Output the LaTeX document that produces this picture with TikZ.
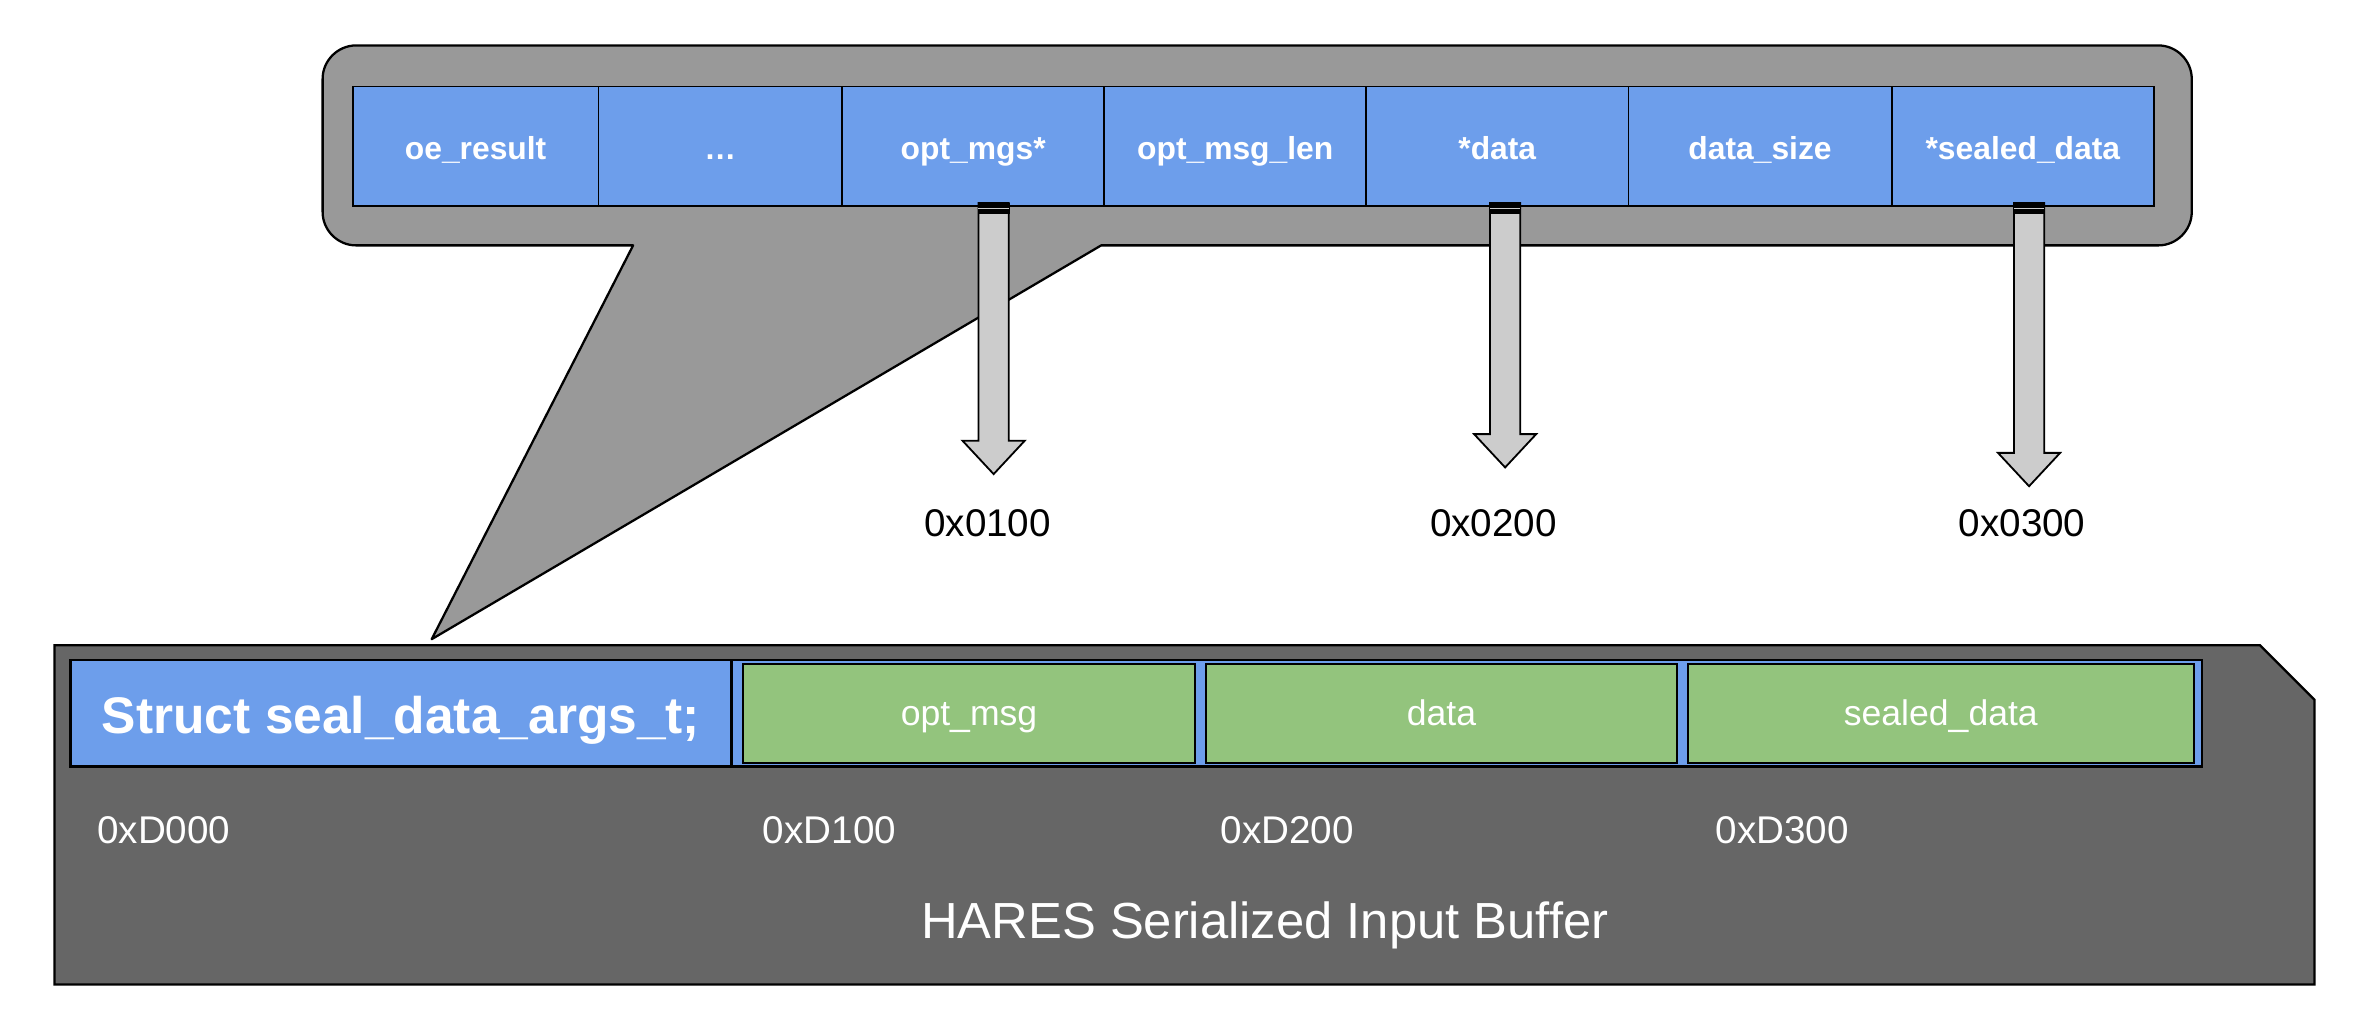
\documentclass[tikz,border=0pt]{standalone}
\usepackage{fontspec}
\setmainfont{Liberation Sans}
\usetikzlibrary{calc}
\definecolor{cellblue}{HTML}{6D9EEB}
\definecolor{cellgreen}{HTML}{93C47D}
\definecolor{calloutgray}{HTML}{999999}
\definecolor{panelgray}{HTML}{666666}
\definecolor{arrowgray}{HTML}{CCCCCC}
\begin{document}
\begin{tikzpicture}[x=1pt,y=-1pt,
  topcell/.style={draw=black, line width=1pt, fill=cellblue, minimum height=79pt,
    inner sep=0pt, outer sep=0pt, text=white, text height=17pt, text depth=0pt,
    font=\fontsize{21}{24}\selectfont\bfseries},
  structcell/.style={draw=black, line width=1.6pt, fill=cellblue, minimum height=70.4pt,
    inner sep=0pt, outer sep=0pt, text=white, text height=26.2pt, text depth=0pt,
    font=\fontsize{34}{38}\selectfont\bfseries},
  stripbox/.style={draw=black, line width=1.6pt, fill=cellblue, minimum height=70.4pt,
    inner sep=0pt, outer sep=0pt},
  greencell/.style={draw=black, line width=1.4pt, fill=cellgreen, minimum height=64.9pt,
    inner sep=0pt, outer sep=0pt, text=white, text height=16.6pt, text depth=0pt,
    font=\fontsize{23.5}{27}\selectfont},
  addrlabel/.style={anchor=base, inner sep=0pt, text=black, font=\fontsize{25.5}{29}\selectfont},
  paneladdr/.style={anchor=base west, inner sep=0pt, text=white, font=\fontsize{25.5}{29}\selectfont},
  paneltitle/.style={anchor=base, inner sep=0pt, text=white, font=\fontsize{33.5}{38}\selectfont},
  blockarrow/.style={draw=black, line width=1.2pt, fill=arrowgray, line join=miter},
  arrowstub/.style={fill=black},
]
\useasboundingbox (0,0) rectangle (1568,678);

% callout with pointer
\coordinate (calloutTip) at (285,422);
\draw[fill=calloutgray, line width=1.5pt, line join=round]
  (800,30) -- (1425,30) .. controls (1437,30) and (1447,40) .. (1447,52)
  -- (1447,140) .. controls (1447,152) and (1437,162) .. (1425,162)
  -- (727,162) -- (calloutTip) -- (418,162)
  -- (235,162) .. controls (223,162) and (213,152) .. (213,140)
  -- (213,52) .. controls (213,40) and (223,30) .. (235,30) -- cycle;

% top struct fields
\node[topcell, minimum width=162pt] (c1) at (314,96.5) {oe\_result};
\node[topcell, minimum width=161pt] (c2) at (475.5,96.5) {…};
\node[topcell, minimum width=173pt] (c3) at (642.5,96.5) {opt\_mgs*};
\node[topcell, minimum width=173pt] (c4) at (815.5,96.5) {opt\_msg\_len};
\node[topcell, minimum width=173pt] (c5) at (988.5,96.5) {*data};
\node[topcell, minimum width=174pt] (c6) at (1162,96.5) {data\_size};
\node[topcell, minimum width=173pt] (c7) at (1335.5,96.5) {*sealed\_data};

% bottom panel
\draw[fill=panelgray, line width=1.5pt]
  (36,426) -- (1492,426) -- (1528,462) -- (1528,650) -- (36,650) -- cycle;

\node[structcell, minimum width=436.4pt] (sc) at (264.8,470.9) {Struct seal\_data\_args\_t;};
\node[stripbox, minimum width=970.7pt] (strip) at (968.35,470.9) {};
\node[greencell, minimum width=298.1pt] (g1) at (639.75,471) {opt\_msg};
\node[greencell, minimum width=311.4pt] (g2) at (951.7,471) {data};
\node[greencell, minimum width=333.9pt] (g3) at (1281.35,471) {sealed\_data};

\node[paneladdr] (d0) at (64,557) {0xD000};
\node[paneladdr] (d1) at (503.5,557) {0xD100};
\node[paneladdr] (d2) at (805.7,557) {0xD200};
\node[paneladdr] (d3) at (1132.6,557) {0xD300};
\node[paneltitle] (title) at (835,619.4) {HARES Serialized Input Buffer};

% address labels
\node[addrlabel] (l1) at (652,354) {0x0100};
\node[addrlabel] (l2) at (986,354) {0x0200};
\node[addrlabel] (l3) at (1335,354) {0x0300};

% arrow start and tip coordinates
\coordinate (s1) at ([xshift=13.5pt,yshift=2pt]c3.south);
\coordinate (s2) at ([xshift=5.2pt,yshift=2pt]c5.south);
\coordinate (s3) at ([xshift=4.1pt,yshift=2pt]c7.south);
\coordinate (t1) at (656,313);
\coordinate (t2) at (993.7,308.6);
\coordinate (t3) at (1339.6,321);

\foreach \s/\t in {s1/t1, s2/t2, s3/t3}{
  \draw[blockarrow]
    ([xshift=-10pt]\s) -- ([xshift=10pt]\s)
    -- ([xshift=10pt,yshift=22pt]\t) -- ([xshift=20.5pt,yshift=22pt]\t)
    -- (\t) -- ([xshift=-20.5pt,yshift=22pt]\t)
    -- ([xshift=-10pt,yshift=22pt]\t) -- cycle;
  \fill[arrowstub] ([xshift=-10.6pt]\s) rectangle ([xshift=10.6pt,yshift=-7pt]\s);
  \draw[arrowgray, line width=0.8pt] ([xshift=-10pt,yshift=-3.5pt]\s) -- ([xshift=10pt,yshift=-3.5pt]\s);
}
\end{tikzpicture}
\end{document}
